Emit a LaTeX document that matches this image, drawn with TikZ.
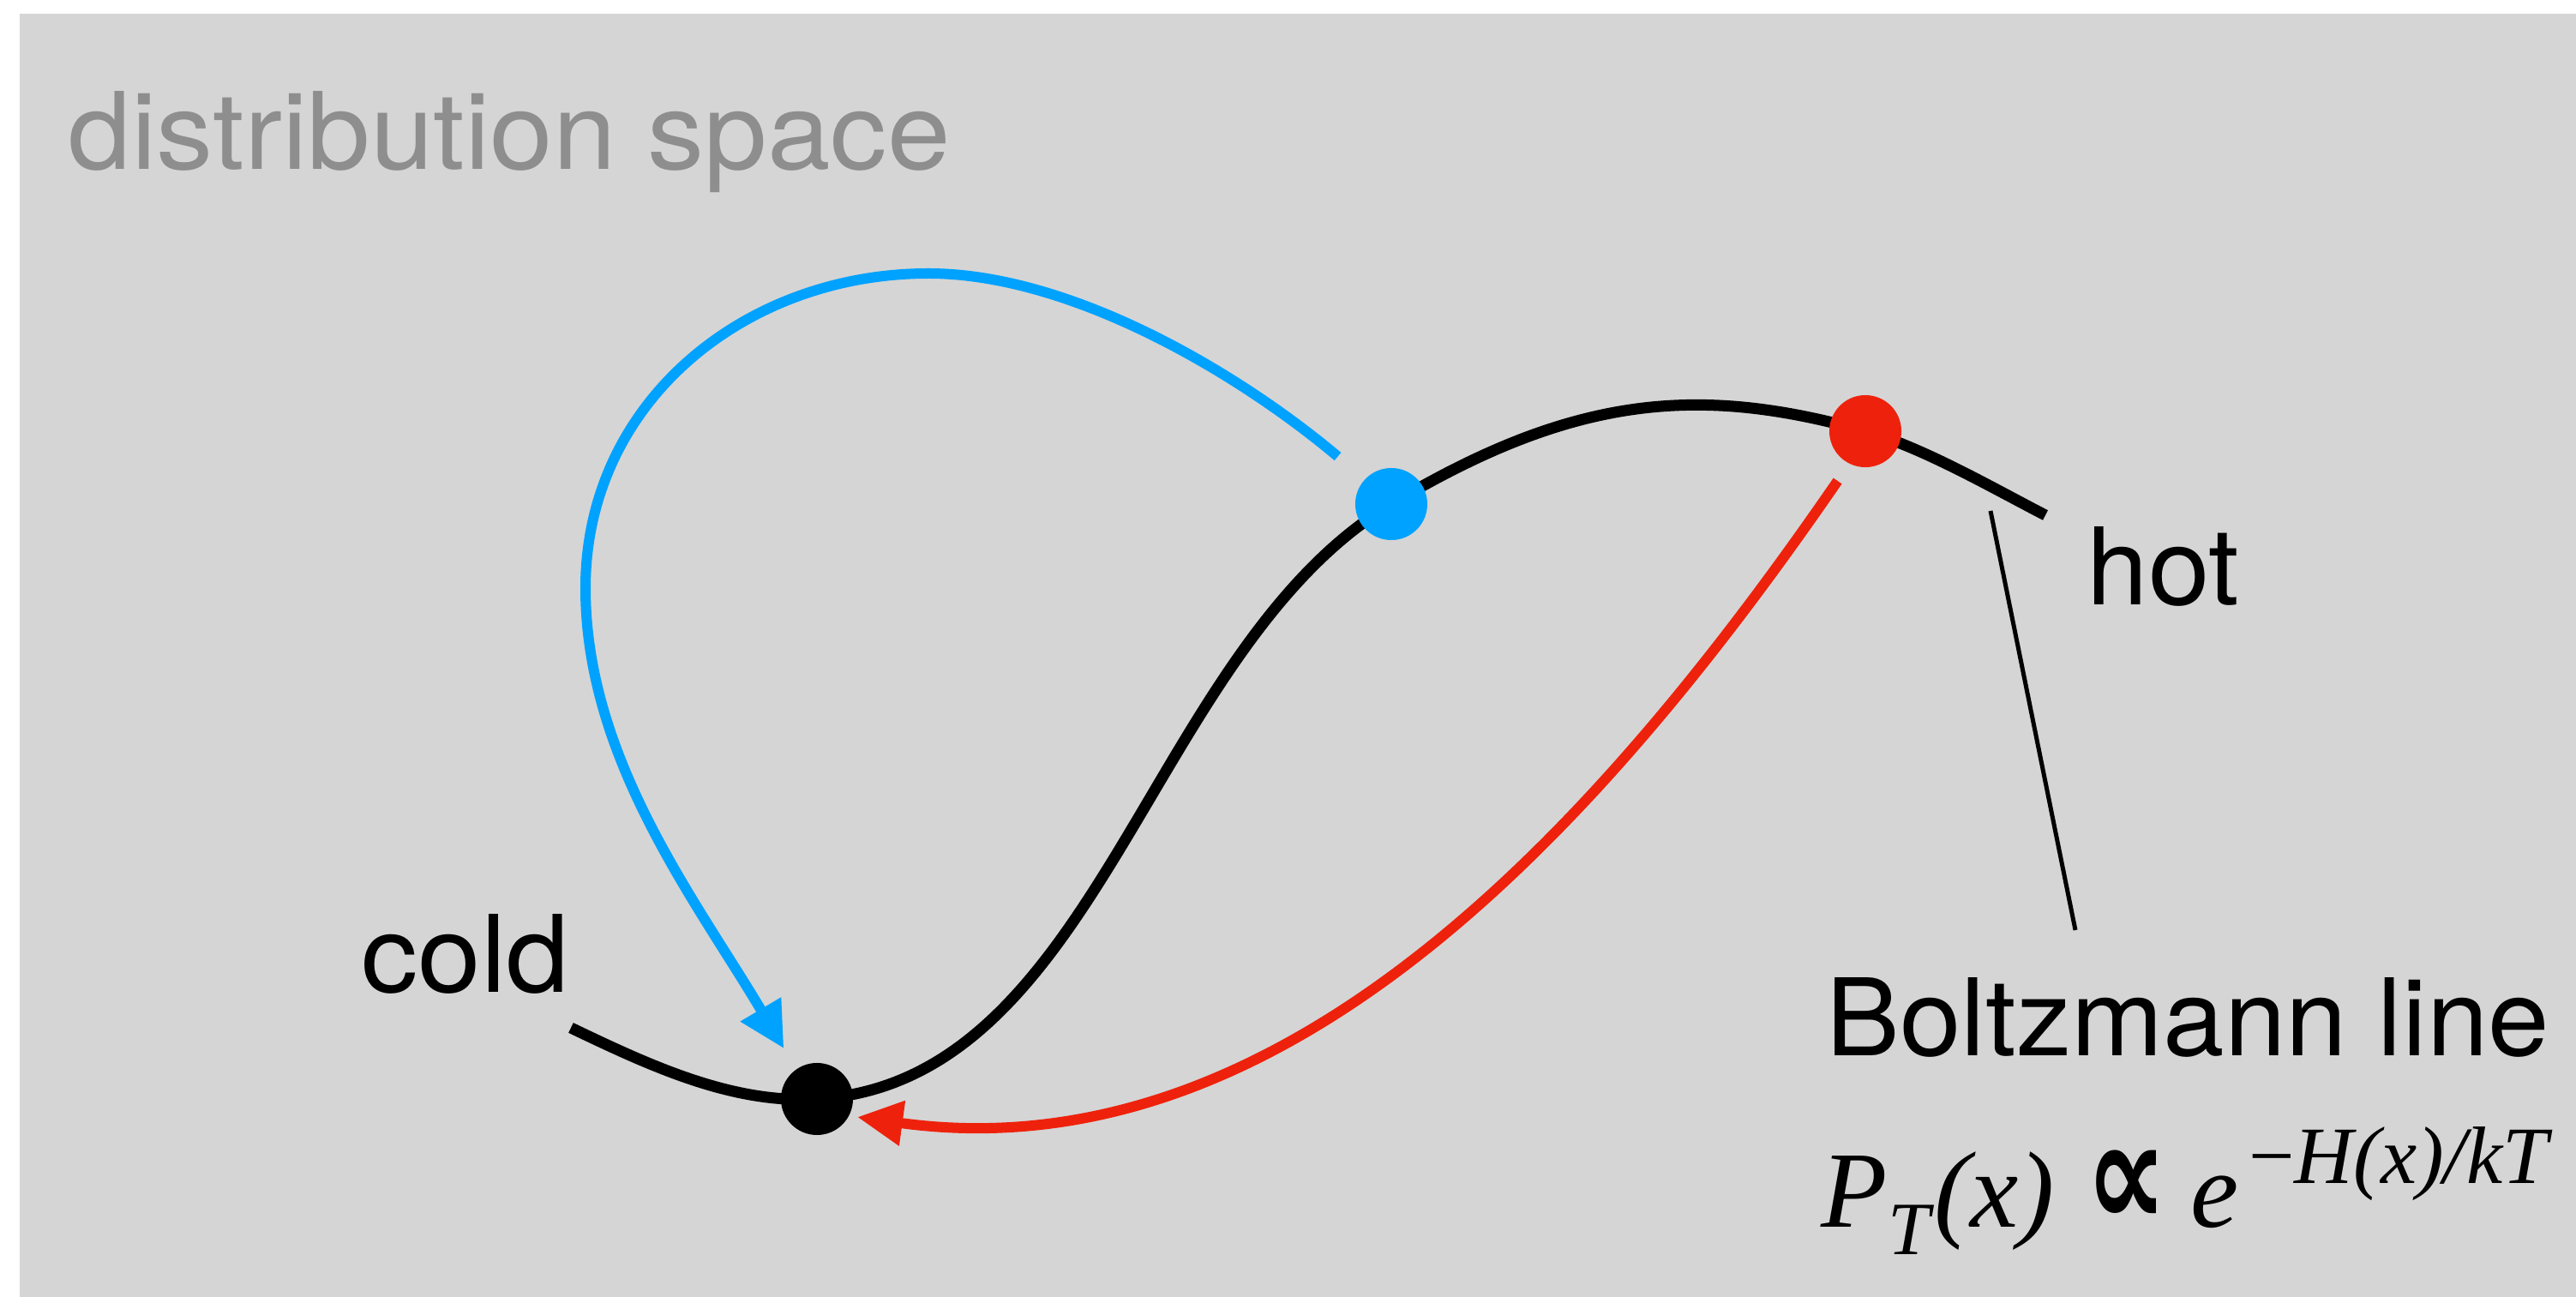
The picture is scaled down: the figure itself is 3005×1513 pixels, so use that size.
\documentclass[tikz,border=0pt]{standalone}
\usepackage{fontspec}
\setmainfont{TeX Gyre Heros}[FakeStretch=1.03]
\newfontfamily\widefont{TeX Gyre Heros}[FakeStretch=1.06]
\newfontfamily\formulafont{Liberation Serif}
\newfontfamily\symbolfont{DejaVu Sans}
\usepackage{tikz}
\usetikzlibrary{arrows.meta,calc,backgrounds}
\definecolor{panelgray}{HTML}{D5D5D5}
\definecolor{spacegray}{HTML}{8E8E8E}
\definecolor{hotred}{HTML}{EE220C}
\definecolor{walkblue}{HTML}{00A2FF}
\tikzset{
  boltzline/.style={line width=0.13cm,black},
  bluepath/.style={-{Triangle[length=0.53cm,width=0.52cm]},line width=0.12cm,walkblue},
  redpath/.style={-{Triangle[length=0.53cm,width=0.50cm]},line width=0.12cm,hotred},
  leader/.style={line width=0.05cm,black},
  statedot/.style={circle,inner sep=0pt,outer sep=0pt,minimum size=0.84cm},
  textlabel/.style={inner sep=0pt,anchor=base west,font=\fontsize{35.5pt}{40pt}\selectfont}
}
\newcommand{\supsize}{\fontsize{27pt}{27pt}\selectfont}

\begin{document}
\begin{tikzpicture}[x=0.01cm,y=-0.01cm]
  \useasboundingbox (0,0) rectangle (3005,1513);
  \node[textlabel,text=spacegray,font=\widefont\fontsize{35.5pt}{40pt}\selectfont] (title) at (79,198) {distribution space};
  \coordinate (coldend) at (666,1199);
  \coordinate (hotend) at (2386,601);
  \node[statedot,fill=black] (cold) at (953,1282) {};
  \node[statedot,fill=walkblue] (mid) at (1623,588) {};
  \node[statedot,fill=hotred] (hot) at (2176,503) {};
  \node[textlabel,font=\widefont\fontsize{35.5pt}{40pt}\selectfont] (coldlabel) at (421,1158) {cold};
  \node[textlabel] (hotlabel) at (2434,706) {hot};
  \node[textlabel] (boltz) at (2130,1232) {Boltzmann line};
  \node[textlabel,font=\formulafont\fontsize{36pt}{40pt}\selectfont] (formula) at (2124,1432)
    {\textit{P}\raisebox{-0.31cm}{\fontsize{25pt}{25pt}\selectfont\textit{T}}\textit{(x)}\hspace{0.29em}\scalebox{1.05}[1.4]{\symbolfont\bfseries ∝}\hspace{0.22em}\textit{e}\raisebox{0.51cm}{\supsize\hspace{0.12em}−\textit{H(x)/kT}}};
  \coordinate (leadtop) at (2322,596);
  \coordinate (leadbot) at (2421,1085);
  \begin{scope}[on background layer]
    \fill[white] (0,0) rectangle (3005,1513);
    \fill[panelgray] (23,16) rectangle (3005,1513);
    \draw[boltzline] (coldend) .. controls (756,1242) and (853,1288) .. (cold.center)
      .. controls (1283,1262) and (1340,758) .. (mid.center)
      .. controls (1837,460) and (1983,449) .. (hot.center)
      .. controls (2243,522) and (2324,569) .. (hotend);
    \draw[bluepath,shorten <=0.415cm,shorten >=0.285cm] (mid.137)
      .. controls (1446,436) and (1250,319) .. (1083,319)
      .. controls (868,319) and (683,470) .. (683,686)
      .. controls (683,886) and (813,1052) .. (cold.125);
    \draw[redpath,shorten <=0.246cm,shorten >=0.1cm] (hot.244)
      .. controls (1860,973) and (1494,1371) .. (cold.-28);
    \draw[leader] (leadtop) -- (leadbot);
  \end{scope}
\end{tikzpicture}
\end{document}
